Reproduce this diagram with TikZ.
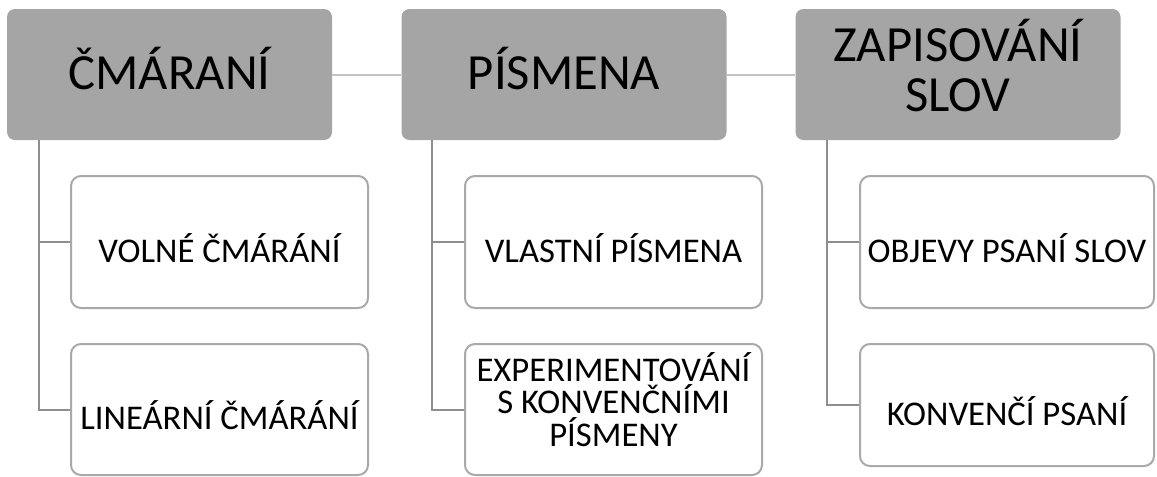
\documentclass[tikz,border=0pt]{standalone}
\usepackage{fontspec}
\setmainfont{Carlito}
\usetikzlibrary{calc}
\definecolor{topgray}{HTML}{A5A5A5}
\definecolor{boxgray}{HTML}{A9A9A9}
\definecolor{treegray}{HTML}{8E8E8E}
\definecolor{linkgray}{HTML}{C3C3C3}
\tikzset{
    topbox/.style={fill=topgray, rounded corners=6pt, minimum width=243.75pt, minimum height=98.25pt, inner sep=0pt, align=center, font=\fontsize{38}{37.5}\selectfont},
    subbox/.style={draw=boxgray, line width=1.5pt, fill=white, rounded corners=7.5pt, minimum width=222.75pt, minimum height=99pt, inner sep=0pt, align=center, font=\fontsize{26}{24.5}\selectfont},
    topline/.style={text height=25pt, text depth=2pt},
    subline/.style={text height=30pt, text depth=0pt},
    treeline/.style={draw=treegray, line width=1.5pt},
    linkline/.style={draw=linkgray, line width=1.5pt}
}
\newcommand{\lowstrut}[1]{\rule[-#1]{0pt}{0pt}}

\begin{document}
\begin{tikzpicture}[x=0.75pt,y=-0.75pt]
\useasboundingbox (0,0) rectangle (1157,476);
% top row
\node[topbox, topline] (t1) at (169.5,74.5) {ČMÁRANÍ};
\node[topbox, topline] (t2) at (564,74.5) {PÍSMENA};
\node[topbox] (t3) at (958,74.5) {ZAPISOVÁNÍ\\SLOV\lowstrut{14pt}};
\draw[linkline] (t1) -- (t2);
\draw[linkline] (t2) -- (t3);
% children
\node[subbox, subline] (c1a) at (219.5,242) {VOLNÉ ČMÁRÁNÍ};
\node[subbox, subline, minimum height=98.25pt] (c1b) at (219.5,409.5) {LINEÁRNÍ ČMÁRÁNÍ};
\node[subbox, subline] (c2a) at (613.5,242) {VLASTNÍ PÍSMENA};
\node[subbox, minimum height=98.25pt] (c2b) at (613.5,409.5) {EXPERIMENTOVÁNÍ\\S KONVENČNÍMI\\PÍSMENY\lowstrut{15pt}};
\node[subbox, subline, minimum width=220.5pt] (c3a) at (1007,242) {OBJEVY PSANÍ SLOV};
\node[subbox, subline, minimum width=220.5pt, minimum height=91.5pt] (c3b) at (1007,405) {KONVENČÍ PSANÍ};
% tree lines
\foreach \s/\x/\p in {s1/39/1, s2/432/2, s3/827/3}{
    \coordinate (\s) at (\x,140);
    \draw[treeline] (\s) |- (c\p a.west);
    \draw[treeline] (\s) |- (c\p b.west);
}
\end{tikzpicture}
\end{document}
